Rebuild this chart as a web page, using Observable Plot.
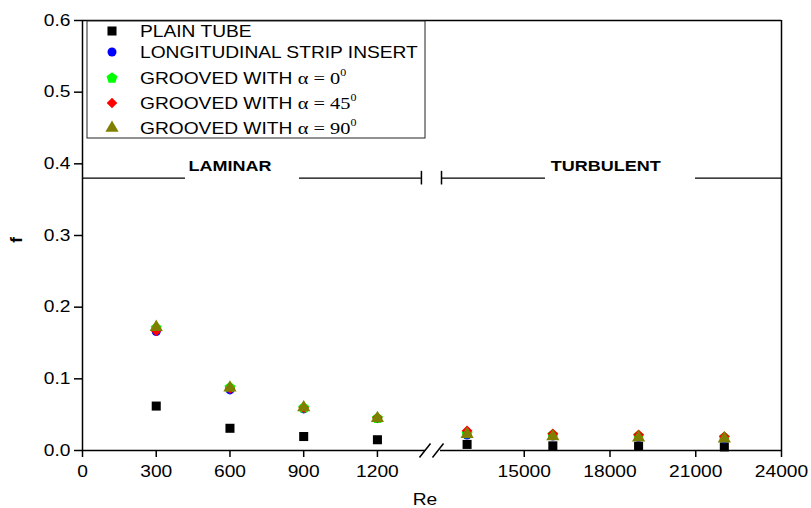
<!DOCTYPE html>
<html>
<head>
<meta charset="utf-8">
<script src="https://cdn.jsdelivr.net/npm/d3@7"></script>
<script src="https://cdn.jsdelivr.net/npm/@observablehq/plot@0.6"></script>
<style>
  html, body { margin: 0; padding: 0; background: #fff; }
</style>
</head>
<body>
<div id="chart"></div>
<script>
// ---- data ----
const reValues    = [300, 600, 900, 1200, 13000, 16000, 19000, 22000];
const plainTube   = [0.062, 0.031, 0.0195, 0.015, 0.0085, 0.0065, 0.006, 0.005];
const stripInsert = [0.166, 0.0845, 0.058, 0.0445, 0.0216, 0.0202, 0.018, 0.016];
const groove0     = [0.171, 0.088, 0.0595, 0.045, 0.0237, 0.0218, 0.0204, 0.018];
const groove45    = [0.167, 0.0865, 0.0595, 0.0456, 0.0275, 0.0232, 0.022, 0.0195];
const groove90    = [0.172, 0.0875, 0.060, 0.045, 0.0227, 0.0195, 0.018, 0.0165];

const seriesNames = ["PLAIN TUBE", "LONGITUDINAL STRIP INSERT", "GROOVED WITH", "GROOVED WITH", "GROOVED WITH"];
const alphaLabels = [null, null, "0", "45", "90"];
const seriesColors = ["#000000", "#0000ff", "#00ff00", "#ff0000", "#808000"];

const xTicks = [0, 300, 600, 900, 1200, 15000, 18000, 21000, 24000];
const yTicks = [0, 0.1, 0.2, 0.3, 0.4, 0.5, 0.6];

// broken axis: laminar part and turbulent part
const xDomain = [0, 1420, 11755, 24000];

// regime annotations (data units)
const regimeY = 0.38;
const laminarLabel = {text: "LAMINAR", x: 600};
const turbulentLabel = {text: "TURBULENT", x: 17850};
const laminarSegments = [[0, 419], [883, 1379]];
const turbulentSegments = [[12105, 15743], [20991, 24000]];
const regimeEnds = [1379, 12105];

// ---- symbols ----
const pentagon = {
  draw(context, size) {
    const r = Math.sqrt(size / (2.5 * Math.sin(2 * Math.PI / 5)));
    for (let k = 0; k < 5; ++k) {
      const a = -Math.PI / 2 + k * 2 * Math.PI / 5;
      const px = r * Math.cos(a), py = r * Math.sin(a);
      if (k === 0) context.moveTo(px, py); else context.lineTo(px, py);
    }
    context.closePath();
  }
};
const seriesSymbols = ["square", "circle", pentagon, "diamond2", "triangle"];
const seriesR = [5.1, 4.5, 5.0, 4.8, 4.9];
const d3Symbols = [d3.symbolSquare, d3.symbolCircle, pentagon, d3.symbolDiamond2, d3.symbolTriangle];

const allValues = [plainTube, stripInsert, groove0, groove45, groove90];
const table = allValues.map((vals) => reValues.map((re, i) => ({re, f: vals[i]})));

const dotMarks = table.map((rows, s) =>
  Plot.dot(rows, {x: "re", y: "f", symbol: seriesSymbols[s], fill: seriesColors[s], stroke: "none", r: seriesR[s]})
);

const chart = Plot.plot({
  width: 811,
  height: 508,
  marginTop: 20,
  marginBottom: 58,
  marginLeft: 82,
  marginRight: 30,
  style: {fontFamily: "'Liberation Sans', Arial, sans-serif", fontSize: "16px", background: "white", overflow: "visible", color: "#000"},
  x: {type: "linear", domain: xDomain, range: [82, 431, 431, 781]},
  y: {domain: [0, 0.6], range: [450, 20]},
  marks: [
    // frame
    Plot.ruleX([0], {y1: 0, y2: 0.6, strokeWidth: 1.5}),
    Plot.ruleX([24000], {y1: 0, y2: 0.6, strokeWidth: 1.5}),
    Plot.ruleY([0.6], {x1: 0, x2: 24000, strokeWidth: 1.5}),
    Plot.ruleY([0], {x1: 0, x2: 1395, strokeWidth: 1.5}),
    Plot.ruleY([0], {x1: 12070, x2: 24000, strokeWidth: 1.5}),
    // axis break marks
    Plot.link([{a: 1371, b: 1416}, {a: 11790, b: 12175}], {x1: "a", x2: "b", y1: -0.0098, y2: 0.0098, strokeWidth: 1.5}),
    Plot.axisX({ticks: xTicks, tickFormat: d3.format("d"), tickSize: 7, tickPadding: 8, strokeWidth: 1.5, label: null}),
    Plot.axisY({ticks: yTicks, tickFormat: d3.format(".1f"), tickSize: 8, tickPadding: 4, strokeWidth: 1.5, label: null}),
    // regime annotations
    Plot.ruleY(laminarSegments.concat(turbulentSegments), {x1: (d) => d[0], x2: (d) => d[1], y: regimeY, strokeWidth: 1.2}),
    Plot.ruleX(regimeEnds, {y1: regimeY - 0.0095, y2: regimeY + 0.0095, strokeWidth: 1.5}),
    Plot.text([laminarLabel, turbulentLabel], {x: "x", y: regimeY + 0.017, text: "text", fontWeight: "bold", fontSize: 15}),
    ...dotMarks
  ]
});

document.getElementById("chart").appendChild(chart);

const svg = d3.select(chart);

// axis titles
svg.append("text").attr("x", 425).attr("y", 500).attr("text-anchor", "middle")
  .attr("dominant-baseline", "central").attr("font-size", 16).text("Re");
svg.append("text").attr("transform", "translate(16,240) rotate(-90)").attr("text-anchor", "middle")
  .attr("dominant-baseline", "central").attr("font-size", 17).attr("font-weight", "bold").text("f");

// legend
const lg = svg.append("g");
lg.append("rect").attr("x", 87).attr("y", 21).attr("width", 338).attr("height", 117)
  .attr("fill", "white").attr("stroke", "#222").attr("stroke-width", 1);
const rowY = [31, 52, 78, 103, 128];
seriesNames.forEach((name, i) => {
  lg.append("path")
    .attr("transform", `translate(112,${rowY[i]})`)
    .attr("d", d3.symbol(d3Symbols[i], Math.PI * seriesR[i] * seriesR[i])())
    .attr("fill", seriesColors[i]);
  const t = lg.append("text").attr("x", 140).attr("y", rowY[i] + 6).attr("font-size", 16)
    .attr("text-anchor", "start");
  t.append("tspan").text(name + (alphaLabels[i] ? " " : ""));
  if (alphaLabels[i]) {
    t.append("tspan").attr("font-family", "'Liberation Serif', 'Times New Roman', serif").attr("font-size", 17)
      .text("\u03B1 = " + alphaLabels[i]);
    t.append("tspan").attr("font-family", "'Liberation Serif', 'Times New Roman', serif").attr("font-size", 10)
      .attr("dy", -8).text("0");
  }
});

// horizontal stretch of texts to match reference proportions
svg.selectAll("text").each(function () {
  const el = this;
  if (el.getAttribute("transform") && el.getAttribute("transform").includes("rotate")) return;
  const x = +(el.getAttribute("x") || 0);
  const tr = el.getAttribute("transform") || "";
  el.setAttribute("transform", `${tr} translate(${x},0) scale(1.2,1) translate(${-x},0)`);
});
</script>
</body>
</html>
